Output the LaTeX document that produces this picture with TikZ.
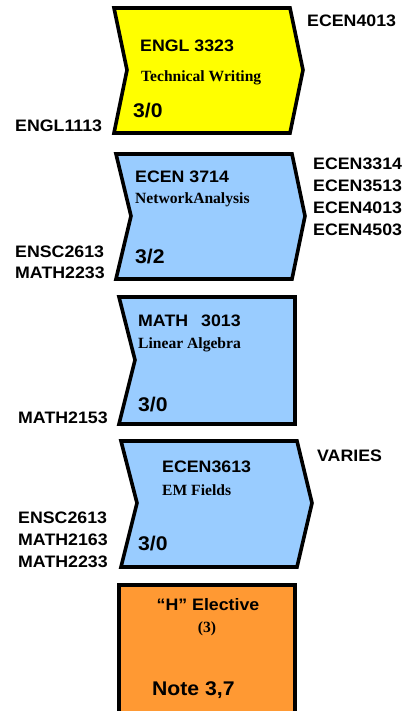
\documentclass[tikz,border=0pt]{standalone}
\usepackage{fontspec}
\setmainfont{Liberation Serif}
\setsansfont{Liberation Sans}[FakeStretch=1.07]
\definecolor{cyellow}{HTML}{FFFF00}
\definecolor{cblue}{HTML}{99CCFF}
\definecolor{corange}{HTML}{FF9933}
\tikzset{
  box/.style={draw=black, line width=3.6pt, line join=miter},
  lab/.style={inner sep=0pt, anchor=base west, font=\sffamily\bfseries\fontsize{16.6}{18}\selectfont},
  ttl/.style={inner sep=0pt, anchor=base west, font=\sffamily\bfseries\fontsize{16.6}{18}\selectfont},
  sub/.style={inner sep=0pt, anchor=base west, font=\rmfamily\bfseries\fontsize{15.6}{17}\selectfont},
  cred/.style={inner sep=0pt, anchor=base west, font=\sffamily\bfseries\fontsize{19.8}{22}\selectfont}
}
\begin{document}
\begin{tikzpicture}[x=1pt,y=-1pt]
\useasboundingbox (0,0) rectangle (408,711);
\clip (0,0) rectangle (408,711);
% Box 1
\draw[box, fill=cyellow] (114,8) -- (290,8) -- (303,70) -- (290,133) -- (114,133) -- (127,70) -- cycle;
\node[ttl] (t1) at (140,52) {ENGL 3323};
\node[sub] (s1) at (141,82) {Technical Writing};
\node[cred] (c1) at (133,118) {3/0};
\node[lab] (r1) at (307,27) {ECEN4013};
\node[lab] (l1) at (15,132) {ENGL1113};
% Box 2
\draw[box, fill=cblue] (116,154) -- (292,154) -- (305,216) -- (292,279) -- (116,279) -- (131,216) -- cycle;
\node[ttl] (t2) at (135,183) {ECEN 3714};
\node[sub] (s2) at (135,204) {NetworkAnalysis};
\node[cred] (c2) at (135,263) {3/2};
\node[lab] (r2a) at (313,170) {ECEN3314};
\node[lab] (r2b) at (313,192) {ECEN3513};
\node[lab] (r2c) at (313,214) {ECEN4013};
\node[lab] (r2d) at (313,236) {ECEN4503};
\node[lab] (l2a) at (15,257) {ENSC2613};
\node[lab] (l2b) at (15,278) {MATH2233};
% Box 3
\draw[box, fill=cblue] (119,297) -- (295,297) -- (295,424) -- (119,424) -- (135,360) -- cycle;
\node[ttl] (t3) at (138,326) {MATH\hspace{13pt}3013};
\node[sub] (s3) at (138,348) {Linear Algebra};
\node[cred] (c3) at (138,411) {3/0};
\node[lab] (l3) at (18,423) {MATH2153};
% Box 4
\draw[box, fill=cblue] (121,441) -- (297,441) -- (312,503) -- (297,567) -- (121,567) -- (137,503) -- cycle;
\node[ttl] (t4) at (162,472) {ECEN3613};
\node[sub] (s4) at (162,495) {EM Fields};
\node[cred] (c4) at (138,550) {3/0};
\node[lab] (r4) at (317,461) {VARIES};
\node[lab] (l4a) at (18,523) {ENSC2613};
\node[lab] (l4b) at (18,545) {MATH2163};
\node[lab] (l4c) at (18,567) {MATH2233};
% Box 5
\draw[box, fill=corange] (119,730) -- (119,585) -- (295,585) -- (295,730);
\node[ttl, anchor=base] (t5) at (208,610) {“H” Elective};
\node[sub, anchor=base] (s5) at (207,632) {(3)};
\node[cred] (c5) at (152,695) {Note 3,7};
\end{tikzpicture}
\end{document}
